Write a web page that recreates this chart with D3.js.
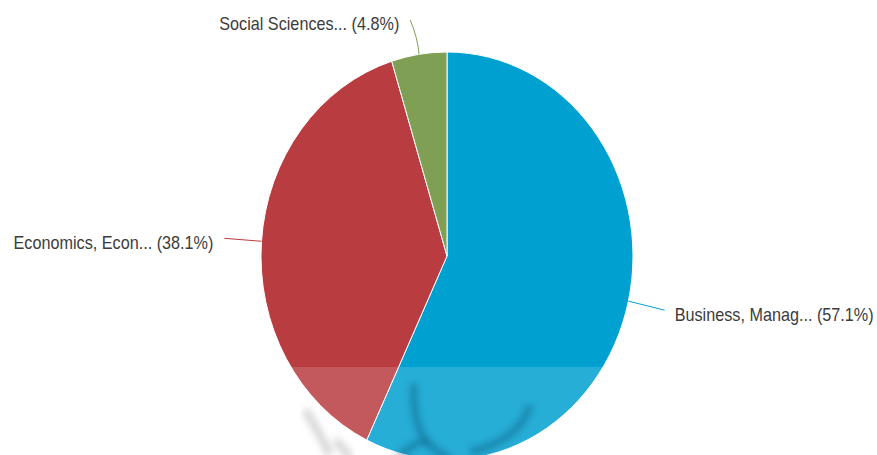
<!DOCTYPE html>
<html><head><meta charset="utf-8">
<script src="https://cdn.jsdelivr.net/npm/d3@7"></script>
<style>html,body{margin:0;padding:0;background:#fff;overflow:hidden}</style>
</head><body>
<script>
const categories = ["Business, Manag...", "Economics, Econ...", "Social Sciences..."];
const values = [57.1, 38.1, 4.8];
const colors = ["#00a0d1", "#b93c41", "#7f9f54"];

const W = 877, H = 455;
const cx = 447, cy = 256, R = 186, sy = 204 / 186;

const svg = d3.select("body").append("svg").attr("width", W).attr("height", H);
const defs = svg.append("defs");
defs.append("filter").attr("id", "blur").append("feGaussianBlur").attr("stdDeviation", 3);

const pie = d3.pie().sort(null).value(d => d)(values);
const arc = d3.arc().innerRadius(0).outerRadius(R);

const g = svg.append("g").attr("transform", `translate(${cx},${cy}) scale(1,${sy})`);
g.selectAll("path.slice").data(pie).join("path")
  .attr("class", "slice")
  .attr("d", arc)
  .attr("fill", (d, i) => colors[i])
  .attr("stroke", "#fff")
  .attr("stroke-width", 1)
  .attr("vector-effect", "non-scaling-stroke");

// leader lines + labels
const pt = (a, r) => [cx + Math.sin(a) * r, cy - Math.cos(a) * r * sy];
const labels = svg.append("g");
pie.forEach((d, i) => {
  const a = (d.startAngle + d.endAngle) / 2;
  const small = (d.endAngle - d.startAngle) < 0.5;
  const p0 = pt(a, R);
  const k = small ? 1.17 : 1.2;
  const p1 = pt(a, R * k);
  let dPath;
  if (small) {
    p1[0] -= 4;
    const m = pt(a, R * 1.08);
    dPath = `M${p0[0]},${p0[1]} Q${m[0] + 1},${m[1]} ${p1[0]},${p1[1]}`;
  } else {
    dPath = `M${p0[0]},${p0[1]} L${p1[0]},${p1[1]}`;
  }
  labels.append("path").attr("d", dPath).attr("fill", "none")
    .attr("stroke", colors[i]).attr("stroke-width", 1);
  const right = Math.sin(a) > 0;
  const tx = p1[0] + (right ? 10 : -11);
  const ty = p1[1] + (small ? 5 : 6);
  labels.append("text")
    .attr("transform", `translate(${tx},${ty}) scale(1,${sy})`)
    .attr("text-anchor", right ? "start" : "end")
    .attr("dominant-baseline", "middle")
    .attr("font-family", "Liberation Sans, Arial, sans-serif")
    .attr("font-size", 16.2)
    .attr("fill", "#3c3c3c")
    .text(`${categories[i]} (${values[i]}%)`);
});

// watermark band overlay
svg.append("rect").attr("x", 0).attr("y", 367).attr("width", W).attr("height", H - 367)
  .attr("fill", "#fff").attr("opacity", 0.15);
const wm = svg.append("g").attr("filter", "url(#blur)").attr("fill", "none")
  .attr("stroke", "#0a3a5a").attr("stroke-opacity", 0.3).attr("stroke-width", 8);
wm.append("path").attr("d", "M414,384 Q412,420 425,440 Q410,445 398,458");
wm.append("path").attr("d", "M530,405 Q520,440 470,452");
wm.append("path").attr("d", "M424,440 Q440,455 450,458");
svg.append("g").attr("filter", "url(#blur)")
  .append("path").attr("d", "M305,410 Q318,430 330,455 M335,440 Q345,450 350,458")
  .attr("fill", "none").attr("stroke", "#888").attr("stroke-opacity", 0.3).attr("stroke-width", 9);
</script>
</body></html>
